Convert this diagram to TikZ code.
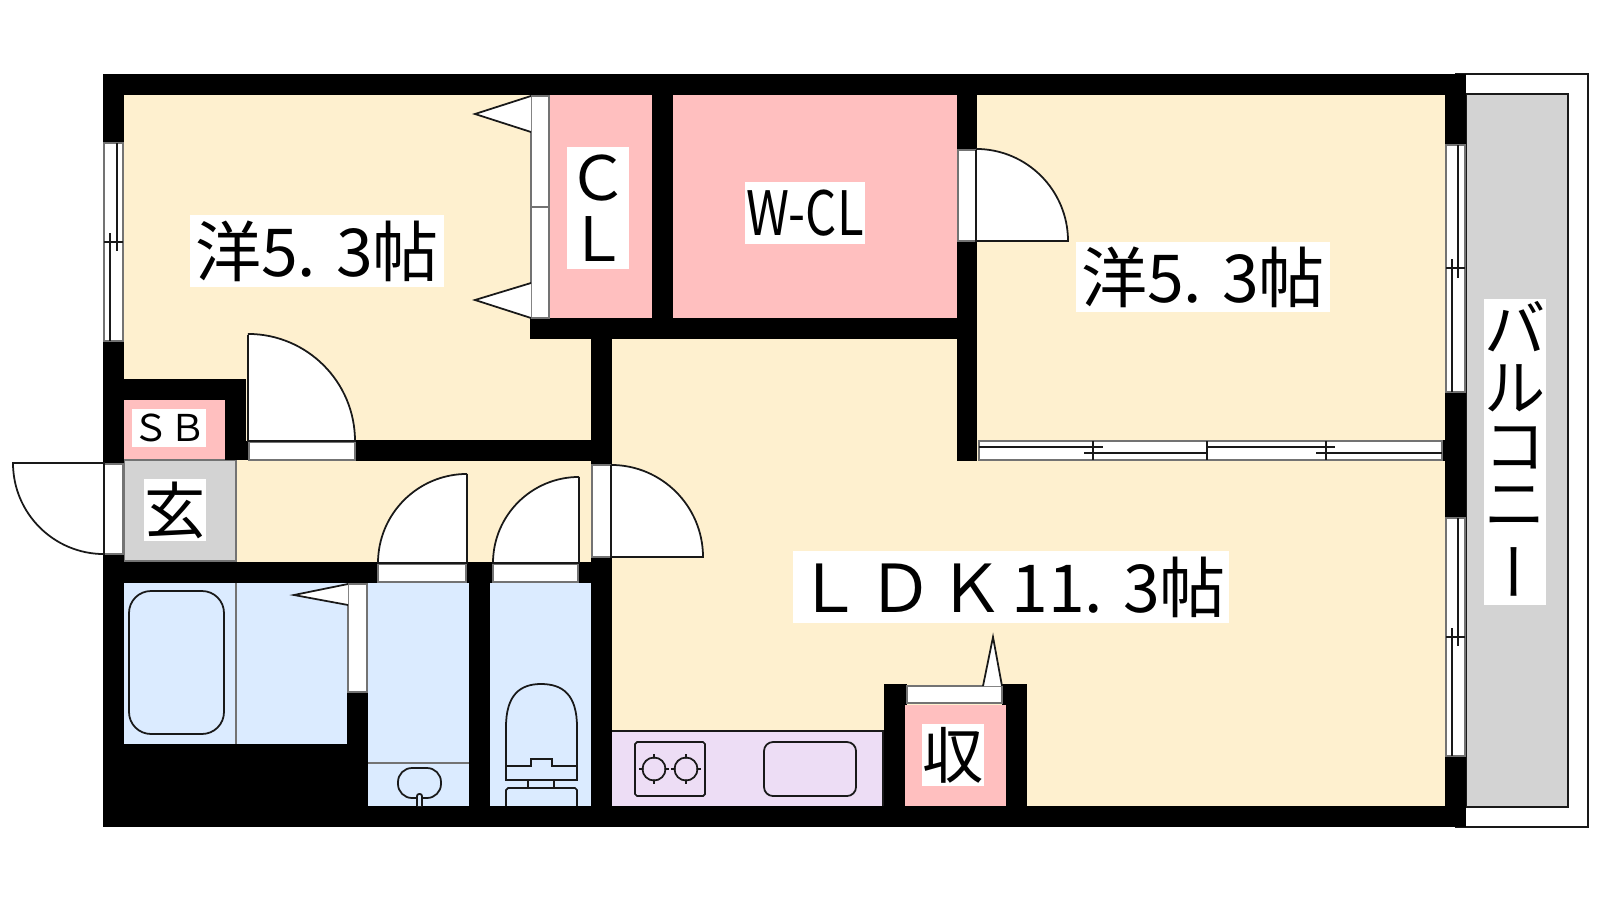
\documentclass[tikz,border=0pt]{standalone}
\usepackage{fontspec}
\setmainfont{Noto Sans CJK JP}
\usetikzlibrary{positioning,calc}

\definecolor{floorcream}{HTML}{FEF0CF}
\definecolor{closetpink}{HTML}{FFBFBF}
\definecolor{wetblue}{HTML}{DBEBFF}
\definecolor{counterlilac}{HTML}{EDDDF5}
\definecolor{porchgray}{HTML}{D3D3D3}

\begin{document}
\begin{tikzpicture}[x=0.01cm, y=-0.01cm]
    % Define styles
    \tikzstyle{wall} = [fill=black]
    \tikzstyle{line} = [draw=black!90, line width=0.5pt]
    \tikzstyle{sill} = [draw=black!55, line width=0.5pt, fill=white]
    \tikzstyle{door} = [line, fill=white]
    \tikzstyle{roomlabel} = [fill=white, inner sep=0pt, text centered, font=\fontsize{17.4}{17.4}\selectfont]
    \tikzstyle{roomname} = [roomlabel, font=\fontsize{18.8}{18.8}\selectfont]

    \useasboundingbox (0,0) rectangle (1600,900);

    % Floors
    \fill [floorcream] (124,95) rectangle (1445,806);
    \fill [closetpink] (124,400) rectangle (225,460);
    \fill [closetpink] (535,95) rectangle (957,318);
    \fill [closetpink] (905,705) rectangle (1006,806);
    \fill [wetblue] (124,583) rectangle (347,744);
    \fill [wetblue] (347,583) rectangle (591,806);
    \fill [counterlilac] (612,731) rectangle (883,806);
    \draw [line] (612,731) -- (883,731) -- (883,806);
    \draw [sill, fill=porchgray] (124,460) rectangle (236,561);

    % Balcony
    \draw [line, fill=white] (1455,74) -- (1588,74) -- (1588,827) -- (1455,827);
    \draw [line, fill=porchgray] (1466,94) rectangle (1568,807);

    % Walls
    \fill [wall] (103,74) rectangle (1466,95);
    \fill [wall] (103,806) rectangle (1466,827);
    \fill [wall] (103,74) rectangle (124,143);
    \fill [wall] (103,341) rectangle (124,464);
    \fill [wall] (103,554) rectangle (124,827);
    \fill [wall] (124,379) rectangle (246,400);
    \fill [wall] (225,379) rectangle (246,460);
    \fill [wall] (246,441) rectangle (249,460);
    \fill [wall] (355,440) rectangle (612,461);
    \fill [wall] (124,562) rectangle (378,583);
    \fill [wall] (466,562) rectangle (492,583);
    \fill [wall] (578,562) rectangle (612,583);
    \fill [wall] (124,744) rectangle (368,806);
    \fill [wall] (347,692) rectangle (368,806);
    \fill [wall] (469,583) rectangle (490,806);
    \fill [wall] (591,557) rectangle (612,806);
    \fill [wall] (591,339) rectangle (612,465);
    \fill [wall] (530,318) rectangle (977,339);
    \fill [wall] (652,95) rectangle (673,318);
    \fill [wall] (957,95) rectangle (977,150);
    \fill [wall] (957,241) rectangle (977,461);
    \fill [wall] (884,684) rectangle (907,705);
    \fill [wall] (884,705) rectangle (905,806);
    \fill [wall] (1002,684) rectangle (1027,705);
    \fill [wall] (1006,705) rectangle (1027,806);
    \fill [wall] (1445,74) rectangle (1466,145);
    \fill [wall] (1445,392) rectangle (1466,518);
    \fill [wall] (1445,756) rectangle (1466,827);
    \fill [wall] (1442,440) rectangle (1445,461);

    % Windows
    \draw [sill] (104,143) rectangle (123,341);
    \draw [line] (117,143) -- (117,251);
    \draw [line] (110,233) -- (110,341);
    \draw [line] (104,242) -- (123,242);
    \draw [sill] (1446,145) rectangle (1465,392);
    \draw [line] (1458,145) -- (1458,278);
    \draw [line] (1452,259) -- (1452,392);
    \draw [line] (1446,268) -- (1465,268);
    \draw [sill] (1446,518) rectangle (1465,756);
    \draw [line] (1458,518) -- (1458,646);
    \draw [line] (1452,628) -- (1452,756);
    \draw [line] (1446,637) -- (1465,637);
    \draw [sill] (979,441) rectangle (1442,460);
    \draw [line] (979,447) -- (1103,447);
    \draw [line] (1084,453) -- (1207,453);
    \draw [line] (1207,447) -- (1335,447);
    \draw [line] (1316,453) -- (1442,453);
    \draw [line] (1093,441) -- (1093,460);
    \draw [line] (1207,441) -- (1207,460);
    \draw [line] (1326,441) -- (1326,460);

    % Doors
    \draw [sill] (249,442) rectangle (355,460);
    \draw [door] (248,335) -- (248,441) -- (355,441) arc[start angle=0, end angle=90, radius=1.07cm];
    \draw [sill] (104,464) rectangle (123,554);
    \draw [door] (104,463) -- (13,463) arc[start angle=180, end angle=270, radius=0.91cm] -- cycle;
    \draw [sill] (378,564) rectangle (466,582);
    \draw [door] (467,474) -- (467,563) -- (378,563) arc[start angle=180, end angle=90, radius=0.89cm];
    \draw [sill] (493,564) rectangle (578,582);
    \draw [door] (579,477) -- (579,563) -- (493,563) arc[start angle=180, end angle=90, radius=0.86cm];
    \draw [sill] (592,465) rectangle (611,557);
    \draw [door] (611,465) -- (611,557) -- (703,557) arc[start angle=0, end angle=90, radius=0.92cm];
    \draw [sill] (958,150) rectangle (976,241);
    \draw [door] (976,150) -- (976,241) -- (1068,241) arc[start angle=0, end angle=90, radius=0.92cm];

    % Folding doors
    \draw [sill] (531,96) rectangle (549,207);
    \draw [sill] (531,207) rectangle (549,318);
    \draw [door] (531,96) -- (475,114) -- (531,132);
    \draw [door] (531,283) -- (475,300) -- (531,318);
    \draw [sill] (348,584) rectangle (367,692);
    \draw [door] (348,584) -- (294,595) -- (348,605);
    \draw [sill] (907,686) rectangle (1002,703);
    \draw [door] (983,686) -- (993,637) -- (1002,686);

    % Bath and toilet
    \draw [sill, fill=none] (236,583) -- (236,744);
    \draw [line, rounded corners=0.22cm] (129,591) rectangle (224,734);
    \draw [sill, fill=none] (368,763) -- (469,763);
    \draw [line, rounded corners=0.14cm] (398,768) rectangle (441,798);
    \draw [line, fill=wetblue, rounded corners=0.02cm] (417,806) -- (417,794) -- (422,794) -- (422,806);
    \draw [line] (506,766) -- (506,727) .. controls (506,695) and (520,684) .. (541,684)
        .. controls (563,684) and (577,695) .. (577,727) -- (577,780) -- (506,780) -- cycle;
    \draw [line] (506,766) -- (531,766) -- (531,759) -- (552,759) -- (552,766) -- (577,766);
    \draw [line] (528,780) -- (528,788);
    \draw [line] (554,780) -- (554,788);
    \draw [line] (506,806) -- (506,790) -- (508,788) -- (575,788) -- (577,790) -- (577,806);

    % Kitchen
    \draw [line] (637,742) -- (703,742) -- (705,744) -- (705,794) -- (703,796) -- (637,796) -- (635,794) -- (635,744) -- cycle;
    \draw [line] (639,769) -- (669,769) (654,754) -- (654,784);
    \draw [line] (671,769) -- (701,769) (686,754) -- (686,784);
    \fill [counterlilac] (654,769) circle [radius=0.105cm];
    \fill [counterlilac] (686,769) circle [radius=0.105cm];
    \draw [line] (654,769) circle [radius=0.115cm];
    \draw [line] (686,769) circle [radius=0.115cm];
    \draw [line, rounded corners=0.09cm] (764,742) rectangle (856,796);

    % Labels
    \node [roomname, minimum width=2.54cm, minimum height=0.72cm] (westroom) at (317,251) {洋5.\kern0.3em 3帖};
    \node [roomname, minimum width=2.54cm, minimum height=0.70cm] (eastroom) at (1203,277) {洋5.\kern0.3em 3帖};
    \node [roomname, minimum width=4.36cm, minimum height=0.72cm] (livingroom) at (1011,587) {Ｌ\kern0.08emＤ\kern0.08emＫ\kern0.1em 11.\kern0.3em 3帖};
    \node [roomlabel, minimum width=0.62cm, minimum height=1.22cm, align=center] (closet) at (598,208) {Ｃ\\Ｌ};
    \node [roomlabel, minimum width=1.20cm, minimum height=0.61cm] (walkin) at (805,213) {\scalebox{0.8}[1]{W-CL}};
    \node [roomlabel, minimum width=0.74cm, minimum height=0.37cm, font=\fontsize{10.5}{10.5}\selectfont] (shoebox) at (169,428) {ＳＢ};
    \node [roomlabel, minimum width=0.62cm, minimum height=0.61cm] (entrance) at (175,510) {玄};
    \node [roomlabel, minimum width=0.62cm, minimum height=0.61cm] (storage) at (953,755) {収};
    \node [roomlabel, minimum width=0.62cm, minimum height=3.05cm, align=center, font=\fontsize{17.4}{16.6}\selectfont] (balcony) at (1515,452) {バ\\ル\\コ\\ニ\\\kern0.3em\rotatebox[origin=c]{90}{ー}};
\end{tikzpicture}
\end{document}
